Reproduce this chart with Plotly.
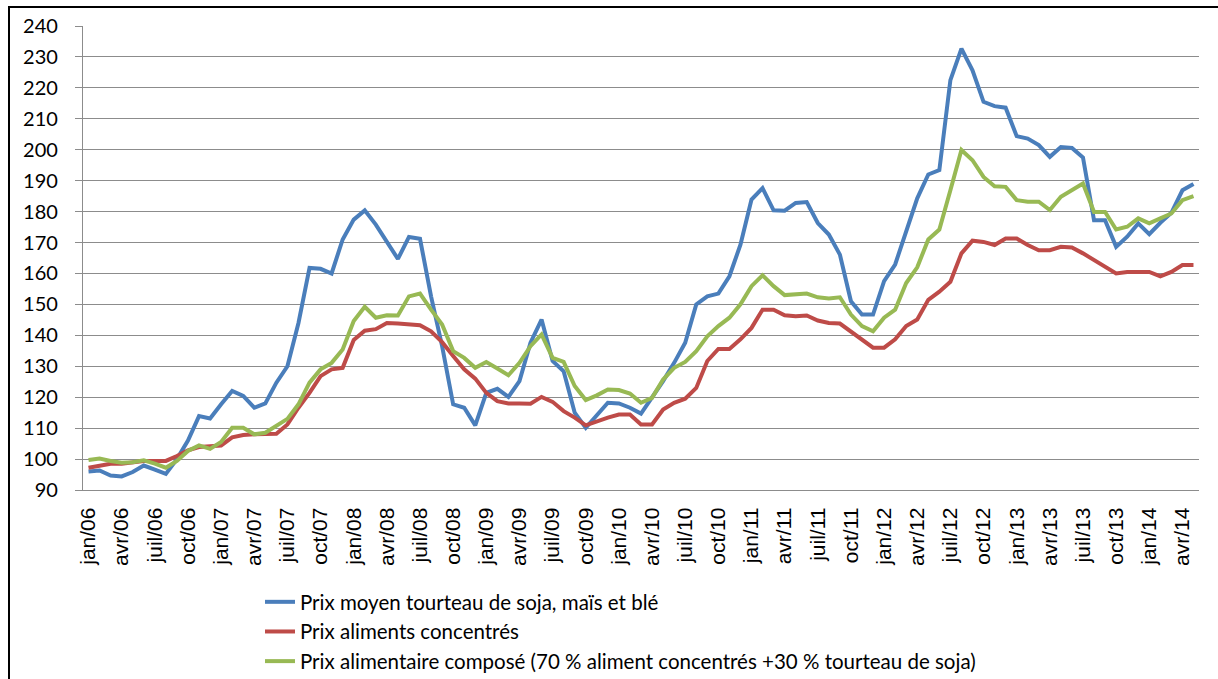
import plotly.graph_objects as go

# mois (jan/06 -> mai/14), un point par mois
mois_abr = ["jan", "fév", "mars", "avr", "mai", "juin", "juil", "août", "sept", "oct", "nov", "déc"]
mois = [f"{mois_abr[i % 12]}/{6 + i // 12:02d}" for i in range(101)]
tick_labels = mois[::3]

prix_moyen = [
    96.0, 96.3, 94.7, 94.4, 95.8, 97.9, 96.6, 95.2, 100.0, 106.0,
    113.9, 113.1, 117.7, 122.0, 120.4, 116.6, 118.0, 124.7, 130.0, 144.0,
    161.8, 161.5, 160.0, 171.0, 177.4, 180.4, 175.8, 170.4, 164.7, 171.8,
    171.2, 152.6, 136.5, 117.7, 116.6, 110.9, 121.4, 122.7, 120.1, 125.2,
    137.6, 145.1, 131.7, 128.4, 115.0, 110.1, 114.4, 118.2, 118.0, 116.6,
    114.7, 119.8, 125.2, 131.1, 137.6, 150.0, 152.6, 153.5, 159.1, 169.3,
    183.9, 187.6, 180.4, 180.3, 182.8, 183.1, 176.3, 172.6, 166.1, 151.0,
    146.7, 146.7, 157.5, 162.9, 173.7, 184.3, 192.0, 193.4, 222.5, 232.7,
    225.7, 215.5, 214.1, 213.6, 204.4, 203.6, 201.5, 197.7, 200.9, 200.6,
    197.5, 177.2, 177.2, 168.6, 171.9, 176.2, 172.7, 176.4, 179.6, 186.9,
    188.9,
]

prix_concentres = [
    97.2, 98.0, 98.5, 98.5, 99.0, 99.4, 99.4, 99.4, 101.0, 102.8,
    103.9, 104.2, 104.4, 107.0, 107.8, 108.0, 108.0, 108.2, 111.2, 116.6,
    121.4, 126.8, 129.0, 129.5, 138.5, 141.5, 142.0, 144.0, 143.8, 143.5,
    143.3, 141.3, 137.8, 133.3, 129.0, 126.0, 121.4, 118.7, 118.0, 118.0,
    117.9, 120.1, 118.5, 115.5, 113.4, 110.9, 112.3, 113.4, 114.4, 114.4,
    111.2, 111.2, 116.0, 118.2, 119.5, 123.0, 131.7, 135.6, 135.6, 138.7,
    142.4, 148.3, 148.3, 146.5, 146.2, 146.4, 144.8, 144.0, 143.8, 141.3,
    138.7, 136.0, 136.0, 138.7, 143.0, 145.1, 151.5, 154.1, 157.3, 166.5,
    170.6, 170.2, 169.2, 171.3, 171.3, 169.2, 167.5, 167.5, 168.6, 168.4,
    166.5, 164.3, 161.9, 160.0, 160.5, 160.5, 160.5, 159.1, 160.5, 162.7,
    162.7,
]

prix_compose = [
    99.7, 100.2, 99.4, 98.8, 99.0, 99.6, 98.5, 97.2, 99.4, 102.6,
    104.4, 103.3, 105.5, 110.1, 110.1, 108.0, 108.5, 110.7, 113.0, 117.7,
    124.7, 129.0, 131.1, 135.4, 144.6, 149.2, 145.7, 146.5, 146.4, 152.6,
    153.5, 148.3, 143.5, 134.9, 132.7, 129.5, 131.4, 129.3, 127.1, 131.1,
    136.5, 140.3, 132.7, 131.4, 123.6, 119.1, 120.6, 122.5, 122.3, 121.2,
    118.2, 119.8, 125.7, 129.5, 131.4, 134.9, 139.7, 143.0, 145.7, 150.0,
    155.9, 159.4, 155.9, 153.0, 153.2, 153.5, 152.3, 151.9, 152.3, 146.7,
    143.0, 141.3, 145.7, 148.3, 156.9, 162.0, 171.0, 174.2, 186.9, 199.9,
    196.6, 191.2, 188.2, 188.0, 183.7, 183.2, 183.2, 180.5, 184.8, 186.9,
    189.1, 179.9, 179.9, 174.2, 175.1, 177.8, 176.2, 177.8, 179.4, 183.7,
    185.0,
]

series = [
    ("Prix moyen tourteau de soja, maïs et blé", prix_moyen, "#4A7EBB"),
    ("Prix aliments concentrés", prix_concentres, "#BE4B48"),
    ("Prix alimentaire composé (70 % aliment concentrés +30 % tourteau de soja)", prix_compose, "#98B954"),
]

fig = go.Figure()
for nom, vals, couleur in series:
    fig.add_trace(go.Scatter(x=mois, y=vals, name=nom, mode="lines",
                             line=dict(color=couleur, width=4)))

grid = "#8C8C8C"
n = len(mois)
fig.update_layout(
    width=1218, height=679,
    margin=dict(l=83, r=19, t=26, b=189, autoexpand=False),
    paper_bgcolor="white", plot_bgcolor="white",
    font=dict(family="Lato", size=19, color="black"),
    xaxis=dict(type="category", range=[-0.5, n - 0.5], automargin=False,
               tickmode="array", tickvals=tick_labels, ticktext=tick_labels,
               tickangle=-90, ticks="", showgrid=False,
               showline=True, linecolor=grid, linewidth=1.3,
               tickfont=dict(family="Liberation Sans", size=21),
               ticklabelstandoff=8),
    # axe secondaire : graduations entre les catégories
    xaxis2=dict(overlaying="x", anchor="y", side="bottom",
                range=[-0.5, n - 0.5], showgrid=False, zeroline=False,
                tickmode="array", tickvals=[i - 0.5 for i in range(0, n, 3)],
                ticks="outside", ticklen=8, tickcolor=grid, tickwidth=1.3,
                showticklabels=False, showline=False),
    yaxis=dict(range=[90, 240], dtick=10, showgrid=True, gridcolor=grid,
               gridwidth=1.3, zeroline=False, showline=True, linecolor=grid,
               linewidth=1.3, ticks="outside", ticklen=7, tickcolor=grid,
               tickwidth=1.3, ticklabelstandoff=13, tickfont=dict(size=20),
               automargin=False),
    legend=dict(x=260 / 1218, y=(679 - 582) / 679, xref="container", yref="container",
                xanchor="left", yanchor="top", tracegroupgap=0,
                bgcolor="rgba(0,0,0,0)", font=dict(size=20.5)),
    shapes=[dict(type="rect", xref="paper", yref="paper",
                 x0=-74 / 1116, x1=1.05, y0=-0.6, y1=483 / 464,
                 line=dict(color="black", width=2))],
)

fig.write_html("out.html", config={"displayModeBar": False},
               post_script="document.body.style.margin = '0';")
